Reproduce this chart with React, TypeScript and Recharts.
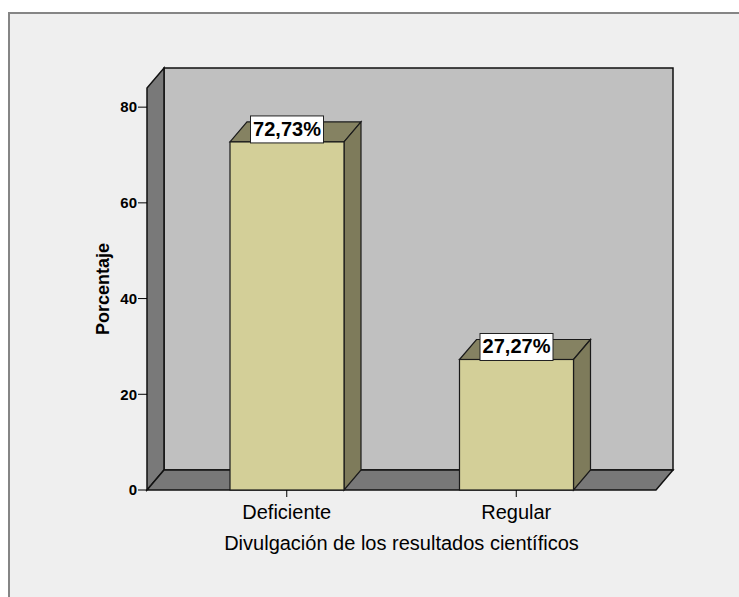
import React from 'react'
import { BarChart, Bar, XAxis, YAxis, ReferenceArea, LabelList } from 'recharts'

const categories = ['Deficiente', 'Regular']
const percentages = [72.73, 27.27]
const yTicks = [0, 20, 40, 60, 80]

const data = categories.map((name, i) => ({ name, value: percentages[i] }))

const FONT = 'Arial, "Liberation Sans", sans-serif'
const DEPTH_X = 17
const DEPTH_Y = -20
const X_PAD = 25

// back wall, left wall and floor of the 3D box
function Walls(props: any) {
  const { x, y, width, height } = props
  const left = x - X_PAD
  const right = x + width + X_PAD
  const top = y
  const bottom = y + height
  const stroke = '#111'
  return (
    <g>
      <rect
        x={left + DEPTH_X}
        y={top + DEPTH_Y}
        width={right - left}
        height={bottom - top}
        fill="#c0c0c0"
        stroke={stroke}
        strokeWidth={1.5}
      />
      <polygon
        points={`${left},${bottom} ${left},${top} ${left + DEPTH_X},${top + DEPTH_Y} ${left + DEPTH_X},${bottom + DEPTH_Y}`}
        fill="#797979"
        stroke={stroke}
        strokeWidth={1.5}
      />
      <polygon
        points={`${left},${bottom} ${right},${bottom} ${right + DEPTH_X},${bottom + DEPTH_Y} ${left + DEPTH_X},${bottom + DEPTH_Y}`}
        fill="#787878"
        stroke={stroke}
        strokeWidth={1.5}
      />
    </g>
  )
}

function Bar3D(props: any) {
  const { x, y, width, height } = props
  const stroke = '#1a1a1a'
  return (
    <g>
      <polygon
        points={`${x},${y} ${x + width},${y} ${x + width + DEPTH_X},${y + DEPTH_Y} ${x + DEPTH_X},${y + DEPTH_Y}`}
        fill="#858262"
        stroke={stroke}
        strokeWidth={1.2}
      />
      <polygon
        points={`${x + width},${y} ${x + width},${y + height} ${x + width + DEPTH_X},${y + height + DEPTH_Y} ${x + width + DEPTH_X},${y + DEPTH_Y}`}
        fill="#7e7b5b"
        stroke={stroke}
        strokeWidth={1.2}
      />
      <rect x={x} y={y} width={width} height={height} fill="#d3cf98" stroke={stroke} strokeWidth={1.2} />
    </g>
  )
}

function ValueBox(props: any) {
  const { x, y, width, value } = props
  const cx = x + width / 2
  const w = 73
  const h = 27
  const text = value.toFixed(2).replace('.', ',') + '%'
  return (
    <g>
      <rect x={cx - w / 2} y={y - h + 1} width={w} height={h} fill="#fff" stroke="#222" strokeWidth={1} />
      <text x={cx} y={y - 6} textAnchor="middle" fontFamily={FONT} fontSize={20} fontWeight="bold" fill="#000">
        {text}
      </text>
    </g>
  )
}

export default function App() {
  return (
    <>
      <div
        style={{
          position: 'absolute',
          left: 8,
          top: 12,
          width: 740,
          height: 600,
          background: '#efefef',
          borderTop: '2px solid #858585',
          borderLeft: '2px solid #858585',
        }}
      />
      <div style={{ position: 'absolute', left: 0, top: 0 }}>
        <BarChart
          width={739}
          height={597}
          data={data}
          margin={{ top: 88, right: 83, bottom: 77, left: 87 }}
          barSize={114}
        >
          <ReferenceArea y1={0} y2={84} shape={<Walls />} ifOverflow="visible" />
          <XAxis
            dataKey="name"
            height={30}
            padding={{ left: X_PAD, right: X_PAD }}
            axisLine={false}
            tickLine={{ stroke: '#000' }}
            tickSize={7}
            tickMargin={8}
            tick={{ fill: '#000', fontSize: 20, fontFamily: FONT }}
            label={{
              content: ({ viewBox }: any) => (
                <text
                  x={viewBox.x + viewBox.width / 2}
                  y={viewBox.y + 60}
                  textAnchor="middle"
                  fontFamily={FONT}
                  fontSize={20}
                  fill="#000"
                >
                  Divulgación de los resultados científicos
                </text>
              ),
            }}
          />
          <YAxis
            width={60}
            domain={[0, 84]}
            ticks={yTicks}
            axisLine={false}
            tickLine={{ stroke: '#000' }}
            tickSize={9}
            tickMargin={1}
            tick={{ fill: '#000', fontSize: 15, fontWeight: 'bold', fontFamily: FONT }}
            label={{
              content: ({ viewBox }: any) => {
                const lx = viewBox.x + 22
                const ly = viewBox.y + viewBox.height / 2
                return (
                  <text
                    x={lx}
                    y={ly}
                    transform={`rotate(-90, ${lx}, ${ly})`}
                    textAnchor="middle"
                    fontFamily={FONT}
                    fontSize={18}
                    fontWeight="bold"
                    fill="#000"
                  >
                    Porcentaje
                  </text>
                )
              },
            }}
          />
          <Bar dataKey="value" shape={<Bar3D />} isAnimationActive={false}>
            <LabelList dataKey="value" content={<ValueBox />} />
          </Bar>
        </BarChart>
      </div>
    </>
  )
}
